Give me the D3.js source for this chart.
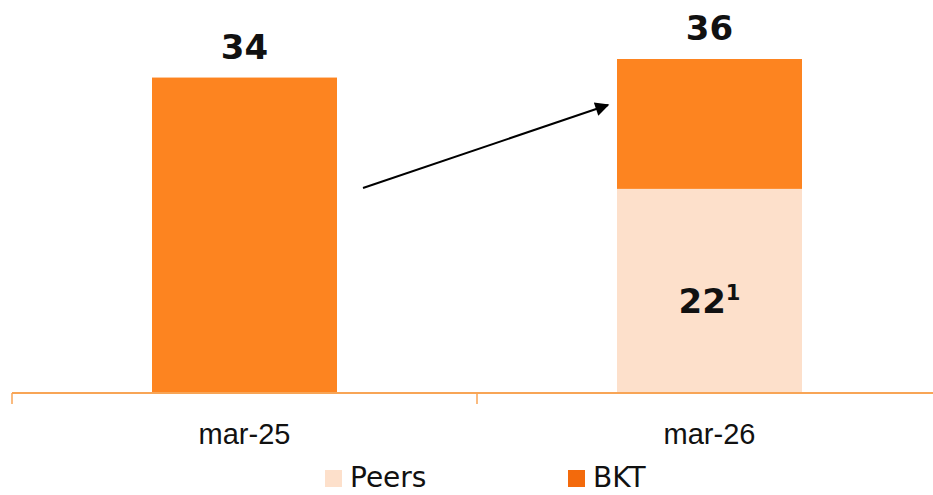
<!DOCTYPE html>
<html>
<head>
<meta charset="utf-8">
<script src="https://cdn.jsdelivr.net/npm/d3@7"></script>
<style>
  html, body { margin: 0; padding: 0; background: #fff; }
  svg { display: block; font-family: "DejaVu Sans", sans-serif; }
</style>
</head>
<body>
<svg id="chart" width="933" height="495"></svg>
<script>
// Data
const categories = ["mar-25", "mar-26"];
const peersValues = [0, 22];
const bktValues = [34, 14];
const totals = [34, 36];
const seriesNames = ["Peers", "BKT"];

const colors = {
  peers: "#fde0cb",
  bkt: "#fd8420",
  bktLegend: "#f36a0c",
  axis: "#f8a556"
};

const svg = d3.select("#chart");
const W = 933;

const x = d3.scaleBand().domain(categories).range([12, 942]).paddingInner(0).paddingOuter(0);
const barW = 185;
const y = d3.scaleLinear().domain([0, 36]).range([393, 59]);

const rows = categories.map((c, i) => ({ cat: c, peers: peersValues[i], bkt: bktValues[i], total: totals[i] }));
const stack = d3.stack().keys(["peers", "bkt"])(rows);

const g = svg.append("g");

// Stacked bars
g.selectAll("g.layer").data(stack).join("g")
  .attr("class", "layer")
  .attr("fill", d => d.key === "peers" ? colors.peers : colors.bkt)
  .selectAll("rect").data(d => d).join("rect")
  .attr("x", d => x(d.data.cat) + (x.bandwidth() - barW) / 2)
  .attr("width", barW)
  .attr("y", d => y(d[1]))
  .attr("height", d => y(d[0]) - y(d[1]));

// Category axis
const axis = d3.axisBottom(x).tickSize(0).tickPadding(0);
const axG = svg.append("g").attr("transform", `translate(0,${y(0)})`).call(axis);
axG.select(".domain").remove();
axG.selectAll(".tick").remove();
axG.append("line").attr("x1", 12).attr("x2", W).attr("y1", 0).attr("y2", 0)
  .attr("stroke", colors.axis).attr("stroke-width", 2);
[12, x("mar-26")].forEach(px => {
  axG.append("line").attr("x1", px).attr("x2", px).attr("y1", 0).attr("y2", 11)
    .attr("stroke", colors.axis).attr("stroke-width", 1.5);
});
axG.selectAll("text.cat").data(categories).join("text")
  .attr("class", "cat")
  .attr("x", d => x(d) + x.bandwidth() / 2)
  .attr("y", 51)
  .attr("text-anchor", "middle")
  .attr("font-size", 29)
  .attr("fill", "#111")
  .text(d => d);

// Total labels
g.selectAll("text.total").data(rows).join("text")
  .attr("class", "total")
  .attr("x", d => x(d.cat) + x.bandwidth() / 2)
  .attr("y", d => y(d.total) - 19)
  .attr("text-anchor", "middle")
  .attr("font-size", 34)
  .attr("font-weight", "bold")
  .attr("fill", "#111")
  .text(d => d.total);

// Peers value label with footnote marker
rows.filter(d => d.peers > 0).forEach(d => {
  const t = g.append("text")
    .attr("x", x(d.cat) + x.bandwidth() / 2)
    .attr("y", y(d.peers / 2) + 22)
    .attr("text-anchor", "middle")
    .attr("font-size", 34)
    .attr("font-weight", "bold")
    .attr("fill", "#111");
  t.append("tspan").text(d.peers);
  t.append("tspan").attr("font-size", 21).attr("font-weight", "bold").attr("dy", -13).text("1");
});

// Growth arrow
svg.append("defs").append("marker")
  .attr("id", "arrowhead")
  .attr("viewBox", "0 0 10 10")
  .attr("refX", 9).attr("refY", 5)
  .attr("markerWidth", 17).attr("markerHeight", 14)
  .attr("markerUnits", "userSpaceOnUse")
  .attr("orient", "auto")
  .append("path").attr("d", "M0,0 L10,5 L0,10 Z").attr("fill", "#000");
svg.append("line")
  .attr("x1", 363).attr("y1", 188)
  .attr("x2", 608).attr("y2", 105)
  .attr("stroke", "#000").attr("stroke-width", 2)
  .attr("marker-end", "url(#arrowhead)");

// Legend
const legendItems = [
  { name: seriesNames[0], color: colors.peers, x: 325 },
  { name: seriesNames[1], color: colors.bktLegend, x: 568 }
];
const lg = svg.append("g");
legendItems.forEach(it => {
  lg.append("rect").attr("x", it.x).attr("y", 470).attr("width", 17).attr("height", 17).attr("fill", it.color);
  lg.append("text").attr("x", it.x + 25).attr("y", 487)
    .attr("font-size", 28).attr("fill", "#111").text(it.name);
});
</script>
</body>
</html>
